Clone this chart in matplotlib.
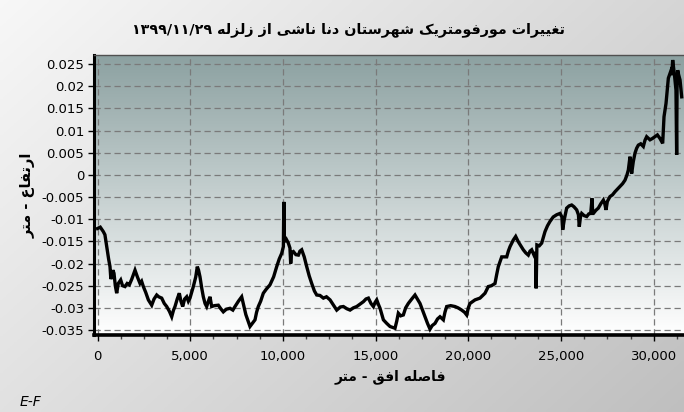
import re
import numpy as np
import matplotlib
matplotlib.use("Agg")
import matplotlib.pyplot as plt
from matplotlib import font_manager, ft2font
from matplotlib.ticker import MultipleLocator, FuncFormatter

# profile data (distance in m, elevation change in m)
dist = [0, 150, 313, 400, 496, 600, 674, 720, 766, 830, 890, 960, 1035, 1120, 1251, 1350,
        1483, 1600, 1717, 1850, 2023, 2150, 2293, 2380, 2473, 2600, 2743, 2923, 3050, 3193,
        3300, 3463, 3600, 3733, 3880, 4003, 4100, 4180, 4300, 4413, 4500, 4595, 4700, 4811,
        4900, 4989, 5080, 5168, 5300, 5383, 5450, 5528, 5620, 5707, 5800, 5887, 5980, 6068,
        6158, 6300, 6516, 6650, 6786, 6950, 7147, 7300, 7416, 7600, 7777, 7902, 8000, 8134,
        8225, 8350, 8495, 8580, 8673, 8800, 8943, 9100, 9304, 9500, 9665, 9800, 9935, 10025,
        10050, 10080, 10180, 10294, 10380, 10420, 10470, 10564, 10700, 10834, 10920, 11014,
        11150, 11284, 11420, 11554, 11700, 11824, 12000, 12183, 12350, 12543, 12700, 12903,
        13100, 13263, 13450, 13622, 13800, 13982, 14150, 14342, 14480, 14611, 14750, 14881,
        14970, 15061, 15150, 15240, 15420, 15600, 15777, 16046, 16140, 16226, 16350, 16496,
        16620, 16765, 16950, 17125, 17250, 17395, 17530, 17665, 17800, 17934, 18050, 18204,
        18340, 18474, 18654, 18740, 18834, 19050, 19283, 19450, 19643, 19800, 19913, 20000,
        20092, 20362, 20631, 20901, 21078, 21250, 21440, 21530, 21618, 21802, 22072, 22160,
        22249, 22427, 22556, 22697, 22830, 22966, 23100, 23236, 23330, 23419, 23544, 23630,
        23660, 23700, 23830, 23958, 24137, 24270, 24407, 24580, 24766, 24946, 25050, 25090,
        25180, 25306, 25440, 25576, 25700, 25846, 25940, 25986, 26050, 26117, 26250, 26387,
        26500, 26603, 26673, 26710, 26745, 26880, 27014, 27150, 27284, 27360, 27427, 27500,
        27643, 27780, 27913, 28050, 28182, 28320, 28452, 28560, 28632, 28722, 28811, 28900,
        28991, 29080, 29171, 29300, 29440, 29530, 29620, 29800, 29930, 30070, 30200, 30340,
        30484, 30556, 30664, 30740, 30790, 30915, 30980, 31023, 31080, 31131, 31202, 31238,
        31260, 31292, 31350, 31420, 31510]
elev = [-0.0121, -0.0118, -0.0128, -0.0135, -0.0162, -0.0190, -0.0207, -0.0235, -0.0230,
        -0.0215, -0.0222, -0.0250, -0.0267, -0.0245, -0.0237, -0.0250, -0.0252, -0.0245,
        -0.0248, -0.0235, -0.0215, -0.0230, -0.0245, -0.0240, -0.0252, -0.0265, -0.0282,
        -0.0294, -0.0280, -0.0271, -0.0275, -0.0278, -0.0290, -0.0297, -0.0308, -0.0320,
        -0.0305, -0.0297, -0.0280, -0.0267, -0.0285, -0.0297, -0.0280, -0.0275, -0.0285,
        -0.0278, -0.0265, -0.0252, -0.0230, -0.0207, -0.0215, -0.0230, -0.0255, -0.0275,
        -0.0290, -0.0297, -0.0285, -0.0275, -0.0297, -0.0295, -0.0294, -0.0302, -0.0309,
        -0.0303, -0.0301, -0.0305, -0.0297, -0.0285, -0.0275, -0.0297, -0.0315, -0.0331,
        -0.0342, -0.0335, -0.0327, -0.0310, -0.0297, -0.0285, -0.0267, -0.0258, -0.0248,
        -0.0230, -0.0207, -0.0190, -0.0177, -0.0162, -0.0061, -0.0150, -0.0145, -0.0154,
        -0.0165, -0.0200, -0.0175, -0.0173, -0.0180, -0.0181, -0.0172, -0.0169, -0.0185,
        -0.0207, -0.0228, -0.0245, -0.0262, -0.0271, -0.0272, -0.0278, -0.0275, -0.0282,
        -0.0292, -0.0305, -0.0298, -0.0297, -0.0302, -0.0305, -0.0300, -0.0297, -0.0292,
        -0.0286, -0.0280, -0.0278, -0.0290, -0.0297, -0.0288, -0.0282, -0.0292, -0.0301,
        -0.0327, -0.0335, -0.0342, -0.0346, -0.0330, -0.0312, -0.0318, -0.0316, -0.0300,
        -0.0290, -0.0280, -0.0271, -0.0280, -0.0290, -0.0305, -0.0320, -0.0335, -0.0348,
        -0.0340, -0.0335, -0.0325, -0.0320, -0.0327, -0.0310, -0.0297, -0.0295, -0.0297,
        -0.0300, -0.0305, -0.0310, -0.0316, -0.0300, -0.0290, -0.0282, -0.0278, -0.0267,
        -0.0252, -0.0250, -0.0245, -0.0225, -0.0207, -0.0185, -0.0185, -0.0172, -0.0162,
        -0.0147, -0.0139, -0.0151, -0.0160, -0.0169, -0.0176, -0.0181, -0.0172, -0.0169,
        -0.0181, -0.0175, -0.0256, -0.0158, -0.0160, -0.0154, -0.0128, -0.0115, -0.0105,
        -0.0095, -0.0090, -0.0087, -0.0095, -0.0124, -0.0100, -0.0075, -0.0070, -0.0068,
        -0.0072, -0.0079, -0.0090, -0.0117, -0.0095, -0.0087, -0.0092, -0.0094, -0.0088,
        -0.0087, -0.0053, -0.0087, -0.0087, -0.0080, -0.0075, -0.0065, -0.0057, -0.0065,
        -0.0079, -0.0060, -0.0049, -0.0045, -0.0038, -0.0032, -0.0026, -0.0020, -0.0012,
        0.0000, 0.0011, 0.0041, 0.0003, 0.0030, 0.0049, 0.0060, 0.0067, 0.0070, 0.0064,
        0.0078, 0.0086, 0.0079, 0.0082, 0.0086, 0.0090, 0.0082, 0.0071, 0.0131, 0.0161,
        0.0195, 0.0218, 0.0233, 0.0225, 0.0259, 0.0240, 0.0221, 0.0191, 0.0045, 0.0200,
        0.0236, 0.0225, 0.0214, 0.0176]

x_ticks = [0, 5000, 10000, 15000, 20000, 25000, 30000]
y_ticks = [-0.035, -0.03, -0.025, -0.02, -0.015, -0.01, -0.005, 0, 0.005, 0.01, 0.015, 0.02, 0.025]

title_txt = "تغییرات مورفومتریک شهرستان دنا ناشی از زلزله ۱۳۹۹/۱۱/۲۹"
xlabel_txt = "فاصله افق - متر"
ylabel_txt = "ارتفاع - متر"

plt.rcParams['axes.unicode_minus'] = False

# --- tiny Persian shaper (matplotlib has no complex text layout) ---
reg_path = font_manager.findfont(font_manager.FontProperties(family='DejaVu Sans'))
bold_path = font_manager.findfont(font_manager.FontProperties(family='DejaVu Sans', weight='bold'))
cmap_reg = ft2font.FT2Font(reg_path).get_charmap()
cmap_bold = ft2font.FT2Font(bold_path).get_charmap()


def make_forms(cmap):
    forms = {
        '\u0627': ('\uFE8D', '\uFE8E', None, None),
        '\u062A': ('\uFE95', '\uFE96', '\uFE97', '\uFE98'),
        '\u062F': ('\uFEA9', '\uFEAA', None, None),
        '\u0631': ('\uFEAD', '\uFEAE', None, None),
        '\u0632': ('\uFEAF', '\uFEB0', None, None),
        '\u0633': ('\uFEB1', '\uFEB2', '\uFEB3', '\uFEB4'),
        '\u0634': ('\uFEB5', '\uFEB6', '\uFEB7', '\uFEB8'),
        '\u0635': ('\uFEB9', '\uFEBA', '\uFEBB', '\uFEBC'),
        '\u0639': ('\uFEC9', '\uFECA', '\uFECB', '\uFECC'),
        '\u063A': ('\uFECD', '\uFECE', '\uFECF', '\uFED0'),
        '\u0641': ('\uFED1', '\uFED2', '\uFED3', '\uFED4'),
        '\u0642': ('\uFED5', '\uFED6', '\uFED7', '\uFED8'),
        '\u0644': ('\uFEDD', '\uFEDE', '\uFEDF', '\uFEE0'),
        '\u0645': ('\uFEE1', '\uFEE2', '\uFEE3', '\uFEE4'),
        '\u0646': ('\uFEE5', '\uFEE6', '\uFEE7', '\uFEE8'),
        '\u0647': ('\uFEE9', '\uFEEA', '\uFEEB', '\uFEEC'),
        '\u0648': ('\uFEED', '\uFEEE', None, None),
    }
    if 0xFB8E in cmap:
        forms['\u06A9'] = ('\uFB8E', '\uFB8F', '\uFB90', '\uFB91')
    else:
        forms['\u06A9'] = ('\uFED9', '\uFEDA', '\uFEDB', '\uFEDC')
    if 0xFBFC in cmap:
        forms['\u06CC'] = ('\uFBFC', '\uFBFD', '\uFBFE', '\uFBFF')
    else:
        forms['\u06CC'] = ('\uFEEF', '\uFEF0', '\uFEF3', '\uFEF4')
    return forms


def shape(text, cmap):
    forms = make_forms(cmap)
    if 0x06F1 not in cmap:
        text = text.translate({0x06F0 + i: 0x0660 + i for i in range(10)})
    out = []
    for i, c in enumerate(text):
        if c not in forms:
            out.append(c)
            continue
        iso, fin, ini, med = forms[c]
        prev = text[i - 1] if i > 0 else ''
        nxt = text[i + 1] if i < len(text) - 1 else ''
        pj = prev in forms and forms[prev][2] is not None
        nj = nxt in forms and ini is not None
        if pj and nj:
            out.append(med)
        elif pj:
            out.append(fin)
        elif nj:
            out.append(ini)
        else:
            out.append(iso)
    s = ''.join(out)[::-1]
    return re.sub(r'[0-9\u0660-\u0669\u06F0-\u06F9/]+', lambda m: m.group(0)[::-1], s)


def pick(txt):
    # use the bold face only if it covers every glyph
    if all(ord(ch) in cmap_bold for ch in shape(txt, cmap_bold)):
        return shape(txt, cmap_bold), 'bold'
    return shape(txt, cmap_reg), 'normal'


W, H = 684, 412
fig = plt.figure(figsize=(W / 100, H / 100), dpi=100)

# figure background: soft diagonal gray gradient
bg = fig.add_axes([0, 0, 1, 1], zorder=-10)
gx, gy = np.meshgrid(np.linspace(0, 1, 200), np.linspace(0, 1, 200))
shade = 0.97 - 0.22 * (0.6 * gx + 0.4 * gy)
bg.imshow(np.dstack([shade] * 3), aspect='auto', extent=[0, 1, 0, 1], origin='upper')
bg.axis('off')

# plot area in pixels: left 94, right beyond edge, top 55, bottom 335
L, R, T, B = 94, 690, 55, 335
ax = fig.add_axes([L / W, 1 - B / H, (R - L) / W, (B - T) / H])

top = np.array([140, 161, 161]) / 255
bot = np.array([255, 255, 255]) / 255
t = np.linspace(0, 1, 256)[:, None]
grad = top[None, :] * (1 - t) + bot[None, :] * t
ax.imshow(grad[:, None, :], aspect='auto', extent=[0, 1, 0, 1],
          transform=ax.transAxes, zorder=0, origin='upper')

ax.plot(dist, elev, color='black', linewidth=2.4, zorder=3, solid_joinstyle='miter')

ax.set_xlim(-189, 31958)
ax.set_ylim(-0.03612, 0.02703)
ax.set_xticks(x_ticks)
ax.set_yticks(y_ticks)
ax.xaxis.set_minor_locator(MultipleLocator(1250))
ax.xaxis.set_major_formatter(FuncFormatter(lambda v, p: f"{int(round(v)):,}"))
ax.yaxis.set_major_formatter(FuncFormatter(lambda v, p: f"{round(v, 4):g}"))
ax.tick_params(axis='both', which='major', direction='out', length=4, width=1,
               labelsize=9.5, colors='black')
ax.tick_params(axis='x', which='minor', direction='out', length=3, width=1, color='#404040')
ax.tick_params(axis='x', pad=7)
ax.tick_params(axis='y', pad=3)

ax.grid(True, which='major', color='#7a7a7a', linestyle=(0, (5, 3)), linewidth=0.9, zorder=1)

ax.spines['left'].set_linewidth(2.2)
ax.spines['bottom'].set_linewidth(2.6)
ax.spines['top'].set_linewidth(1.0)
ax.spines['top'].set_color('#505050')
ax.spines['right'].set_visible(False)

s, w = pick(title_txt)
fig.text(348 / W, 1 - 30 / H, s, ha='center', va='center',
         fontsize=10.3, fontweight=w, family='DejaVu Sans')
s, w = pick(xlabel_txt)
fig.text(390 / W, 1 - 377 / H, s, ha='center', va='center',
         fontsize=10, fontweight=w, family='DejaVu Sans')
s, w = pick(ylabel_txt)
fig.text(28 / W, 1 - 195 / H, s, ha='center', va='center',
         fontsize=10.5, fontweight=w, rotation=90, family='DejaVu Sans')
fig.text(20 / W, 1 - 402 / H, "E-F", ha='left', va='center', fontsize=10,
         style='italic', family='DejaVu Sans')

fig.savefig("out.png", dpi=100)
